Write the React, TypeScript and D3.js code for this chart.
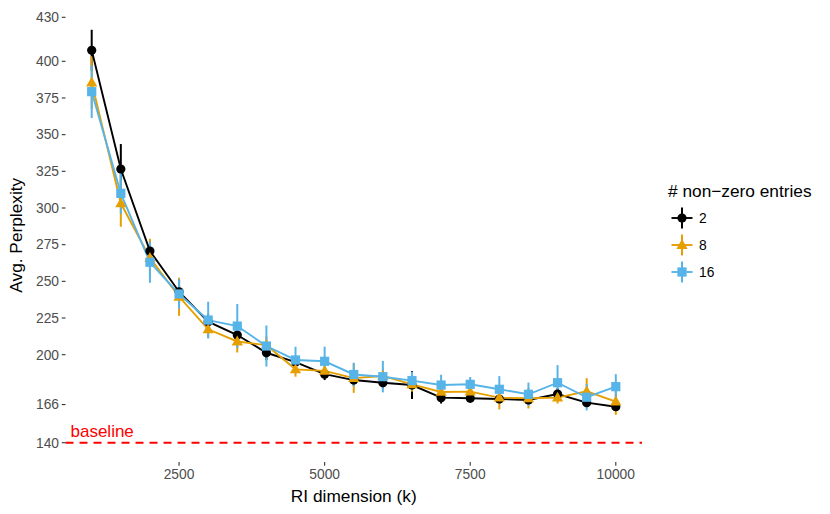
import React from "react";
import * as d3 from "d3";

const dims = [1000, 1500, 2000, 2500, 3000, 3500, 4000, 4500, 5000, 5500, 6000, 6500, 7000, 7500, 8000, 8500, 9000, 9500, 10000];

const nz2 = [407.5, 326.6, 270.7, 242.9, 222.5, 213.4, 201.3, 195, 186.7, 182.7, 180.9, 179.3, 170.7, 170.3, 169.8, 169.1, 173.2, 167.3, 164.5];
const nz2Err = [14, 17, 7, 8, 5, 5, 5, 4, 4, 4, 4, 9.5, 4, 3, 3, 3, 4, 3, 3];

const nz8 = [385.5, 303.2, 266, 239.5, 217.3, 209, 206.5, 190, 189, 184, 185.5, 179.8, 174.6, 174.8, 170.7, 170.3, 170.7, 175, 168];
const nz8Err = [18, 16, 13, 13, 6, 7.5, 6, 5, 5, 10, 5, 5, 4, 3, 8, 7, 4, 9, 9];

const nz16 = [379.3, 310, 263, 241.4, 223.6, 219.5, 205.9, 196.4, 195.5, 186.5, 185, 182.3, 179.3, 179.8, 176.4, 173, 180.9, 171, 178.2];
const nz16Err = [18, 14, 14, 10, 12.5, 15, 14, 9, 10, 8, 10.7, 6, 7, 5, 9, 8, 12, 9, 8.5];

const seriesNames = ["2", "8", "16"];
const seriesColors = ["#000000", "#E69F00", "#56B4E9"];
const seriesShapes = ["circle", "triangle", "square"];

const xTicks = [2500, 5000, 7500, 10000];
const yTicks = [140, 166, 200, 225, 250, 275, 300, 325, 350, 375, 400, 430];
const baselineValue = 140;

const FONT = "'Liberation Sans', Arial, Helvetica, sans-serif";

function Marker({ shape, cx, cy, color }: { shape: string; cx: number; cy: number; color: string }) {
  if (shape === "circle") return <circle cx={cx} cy={cy} r={4.6} fill={color} />;
  if (shape === "square") return <rect x={cx - 4.6} y={cy - 4.6} width={9.2} height={9.2} fill={color} />;
  const s = 5.6;
  const pts = [
    [cx, cy - s * 1.05],
    [cx - s * 1.0, cy + s * 0.7],
    [cx + s * 1.0, cy + s * 0.7],
  ];
  return <polygon points={pts.map((p) => p.join(",")).join(" ")} fill={color} />;
}

export default function App() {
  const W = 830;
  const H = 514;
  const x = d3.scaleLinear().domain([550, 10450]).range([65.5, 642]);
  const y = d3.scaleLinear().domain([140, 430]).range([442.7, 17.3]);
  const panelLeft = 65.5;
  const panelRight = 642;
  const panelTop = 8.5;
  const panelBottom = 462;

  const series = [
    { name: seriesNames[0], vals: nz2, errs: nz2Err, color: seriesColors[0], shape: seriesShapes[0] },
    { name: seriesNames[1], vals: nz8, errs: nz8Err, color: seriesColors[1], shape: seriesShapes[1] },
    { name: seriesNames[2], vals: nz16, errs: nz16Err, color: seriesColors[2], shape: seriesShapes[2] },
  ];

  const line = d3
    .line<[number, number]>()
    .x((d) => x(d[0]))
    .y((d) => y(d[1]));

  return (
    <svg width={W} height={H} style={{ position: "absolute", left: 0, top: 0, background: "#fff" }} fontFamily={FONT}>
      {/* baseline */}
      <line
        x1={panelLeft}
        x2={panelRight}
        y1={y(baselineValue)}
        y2={y(baselineValue)}
        stroke="#FF0000"
        strokeWidth={2}
        strokeDasharray="8,6"
      />
      <text x={x(550) + 5} y={y(baselineValue) - 6} fill="#FF0000" fontSize={17}>
        baseline
      </text>

      {/* error bars */}
      {series.map((s) => (
        <g key={"e" + s.name}>
          {dims.map((d, i) => (
            <line
              key={i}
              x1={x(d)}
              x2={x(d)}
              y1={y(s.vals[i] - s.errs[i])}
              y2={y(s.vals[i] + s.errs[i])}
              stroke={s.color}
              strokeWidth={2}
            />
          ))}
        </g>
      ))}

      {/* lines */}
      {series.map((s) => (
        <path
          key={"l" + s.name}
          d={line(dims.map((d, i) => [d, s.vals[i]] as [number, number])) || ""}
          fill="none"
          stroke={s.color}
          strokeWidth={1.9}
        />
      ))}

      {/* points */}
      {series.map((s) => (
        <g key={"p" + s.name}>
          {dims.map((d, i) => (
            <Marker key={i} shape={s.shape} cx={x(d)} cy={y(s.vals[i])} color={s.color} />
          ))}
        </g>
      ))}

      {/* y axis */}
      {yTicks.map((t) => (
        <g key={"yt" + t}>
          <line x1={panelLeft - 3.7} x2={panelLeft} y1={y(t)} y2={y(t)} stroke="#333333" strokeWidth={1.1} />
          <text x={panelLeft - 6.5} y={y(t)} dy="0.35em" textAnchor="end" fontSize={13.8} fill="#4D4D4D">
            {t}
          </text>
        </g>
      ))}
      {/* x axis */}
      {xTicks.map((t) => (
        <g key={"xt" + t}>
          <line x1={x(t)} x2={x(t)} y1={panelBottom} y2={panelBottom + 3.7} stroke="#333333" strokeWidth={1.1} />
          <text x={x(t)} y={479} textAnchor="middle" fontSize={13.8} fill="#4D4D4D">
            {t}
          </text>
        </g>
      ))}

      <text x={(panelLeft + panelRight) / 2} y={501.5} textAnchor="middle" fontSize={17.3} fill="#000">
        RI dimension (k)
      </text>
      <text
        transform={`translate(21.5, ${(panelTop + panelBottom) / 2}) rotate(-90)`}
        textAnchor="middle"
        fontSize={17.3}
        fill="#000"
      >
        Avg. Perplexity
      </text>

      {/* legend */}
      <text x={668} y={197} fontSize={17.3} fill="#000">
        # non−zero entries
      </text>
      {series.map((s, i) => {
        const cy = 218 + i * 27;
        const cx = 682;
        return (
          <g key={"lg" + s.name}>
            <line x1={cx - 10.5} x2={cx + 10.5} y1={cy} y2={cy} stroke={s.color} strokeWidth={1.9} />
            <line x1={cx} x2={cx} y1={cy - 10.5} y2={cy + 10.5} stroke={s.color} strokeWidth={2} />
            <Marker shape={s.shape} cx={cx} cy={cy} color={s.color} />
            <text x={699} y={cy} dy="0.35em" fontSize={13.8} fill="#000">
              {s.name}
            </text>
          </g>
        );
      })}
    </svg>
  );
}
